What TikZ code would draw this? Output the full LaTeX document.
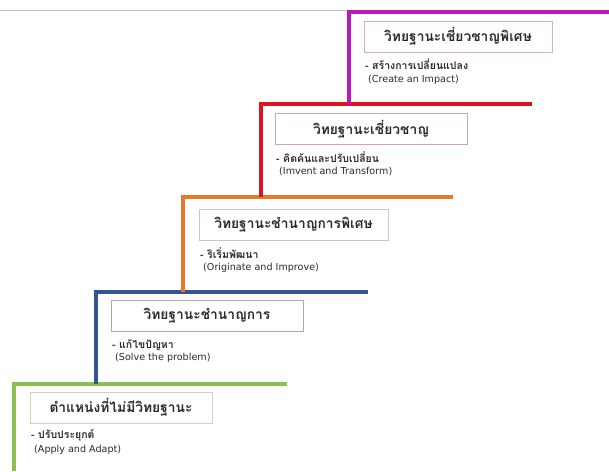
\documentclass[tikz,border=0pt]{standalone}
\usepackage{fontspec}
\newfontfamily\thaifont[Script=Thai]{Loma}
\newfontfamily\engfont{DejaVu Sans}
\definecolor{cMag}{HTML}{B81AB8}
\definecolor{cRed}{HTML}{DC1420}
\definecolor{cOra}{HTML}{E8792A}
\definecolor{cBlu}{HTML}{34558F}
\definecolor{cGrn}{HTML}{8CC152}
\definecolor{bMag}{HTML}{D9A9D9}
\definecolor{bRed}{HTML}{D2A6A6}
\definecolor{bOra}{HTML}{D8C6B4}
\definecolor{bBlu}{HTML}{A9A9A9}
\definecolor{bGrn}{HTML}{C8D8B6}
\definecolor{txt}{HTML}{2A2A2A}
\tikzset{
  stair/.style={line width=3.4pt},
  titlebox/.style={draw=#1, line width=0.8pt, fill=white, minimum height=31pt, inner sep=0pt,
    font=\thaifont\fontsize{13.8}{15}\selectfont\bfseries, text=txt},
  subth/.style={anchor=west, inner sep=0pt, font=\thaifont\fontsize{10.5}{12}\selectfont\bfseries, text=txt},
  suben/.style={anchor=west, inner sep=0pt, font=\engfont\fontsize{9.6}{11}\selectfont, text=txt},
}
\begin{document}
\begin{tikzpicture}[x=1pt,y=-1pt]
\useasboundingbox (0,0) rectangle (609,471);
% thin top line
\coordinate (tl) at (0,10);
\coordinate (tr) at (349,10);
\draw[gray!50, line width=0.7pt] (tl) -- (tr);
% stair corners
\coordinate (m0) at (349,12);   \coordinate (m1) at (609,12);  \coordinate (m2) at (349,104);
\coordinate (r0) at (261,104);  \coordinate (r1) at (532,104); \coordinate (r2) at (261,197);
\coordinate (o0) at (183,197);  \coordinate (o1) at (453,197); \coordinate (o2) at (183,292);
\coordinate (b0) at (96,292);   \coordinate (b1) at (368,292); \coordinate (b2) at (96,384);
\coordinate (g0) at (14,384);   \coordinate (g1) at (287,384); \coordinate (g2) at (14,471);
\draw[stair, cGrn] (g2) -- (g0) -- (g1);
\draw[stair, cBlu] (b2) -- (b0) -- (b1);
\draw[stair, cOra] (o2) -- (o0) -- (o1);
\draw[stair, cRed] (r2) -- (r0) -- (r1);
\draw[stair, cMag] (m2) -- (m0) -- (m1);
% boxes
\node[titlebox=bMag, minimum width=188pt] (tm) at (458,36.5) {วิทยฐานะเชี่ยวชาญพิเศษ};
\node[titlebox=bRed, minimum width=192pt] (tr2) at (371,129) {วิทยฐานะเชี่ยวชาญ};
\node[titlebox=bOra, minimum width=189pt] (to) at (293.5,224.5) {วิทยฐานะชำนาญการพิเศษ};
\node[titlebox=bBlu, minimum width=192pt] (tb) at (207,316) {วิทยฐานะชำนาญการ};
\node[titlebox=bGrn, minimum width=182pt] (tg) at (121,407.5) {ตำแหน่งที่ไม่มีวิทยฐานะ};
% sub texts
\node[subth] (sm) at (365,64) {- สร้างการเปลี่ยนแปลง};
\node[suben] (em) at (368,80) {(Create an Impact)};
\node[subth] (sr) at (276,157) {- คิดค้นและปรับเปลี่ยน};
\node[suben] (er) at (279,171) {(Imvent and Transform)};
\node[subth] (so) at (200,253) {- ริเริ่มพัฒนา};
\node[suben] (eo) at (203,268) {(Originate and Improve)};
\node[subth] (sb) at (112,345) {- แก้ไขปัญหา};
\node[suben] (eb) at (115,358) {(Solve the problem)};
\node[subth] (sg) at (31,435) {- ปรับประยุกต์};
\node[suben] (eg) at (34,450) {(Apply and Adapt)};
\end{tikzpicture}
\end{document}
